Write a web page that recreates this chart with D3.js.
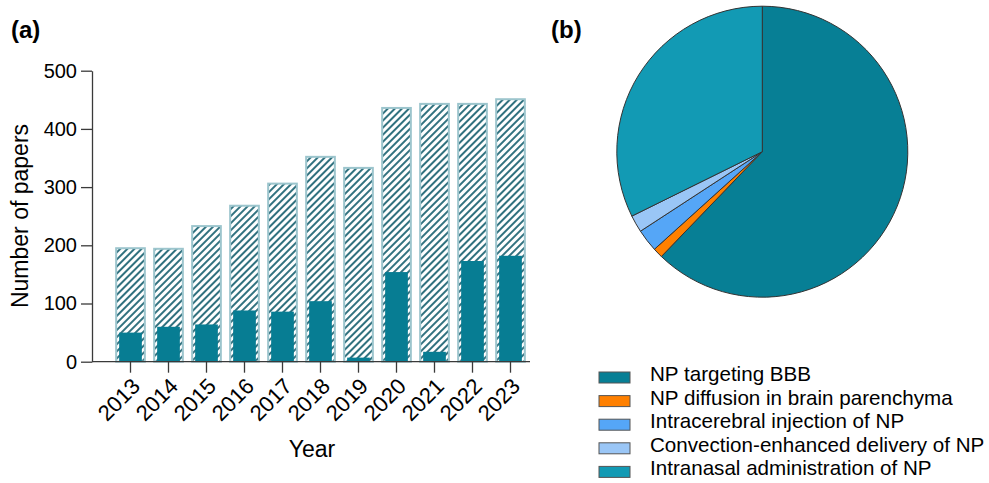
<!DOCTYPE html>
<html>
<head>
<meta charset="utf-8">
<script src="https://cdn.jsdelivr.net/npm/d3@7"></script>
<style>
  html, body { margin: 0; padding: 0; background: #fff; }
  svg { display: block; font-family: "Liberation Sans", Arial, Helvetica, sans-serif; }
</style>
</head>
<body>
<svg id="chart" width="989" height="483"></svg>
<script>
// Panel (a): papers per year
const years = ["2013","2014","2015","2016","2017","2018","2019","2020","2021","2022","2023"];
const totalPapers = [195, 194, 233, 268, 306, 352, 333, 436, 443, 443, 451];
const bbbPapers   = [50, 60, 64, 88, 86, 104, 7, 154, 17, 173, 182];
const yTicks = [0, 100, 200, 300, 400, 500];

// Panel (b): share of delivery strategies (%)
const routes = [
  "NP targeting BBB",
  "NP diffusion in brain parenchyma",
  "Intracerebral injection of NP",
  "Convection-enhanced delivery of NP",
  "Intranasal administration of NP"
];
const routeShare = [62.2, 1.1, 2.5, 1.9, 32.3];
const routeColors = ["#077f95", "#ff8000", "#55a6f7", "#9ac6f6", "#129ab4"];

const svg = d3.select("#chart");
const axisColor = "#3a3a3a";

// hatch pattern for the total bars
const defs = svg.append("defs");
const pat = defs.append("pattern")
  .attr("id", "hatch")
  .attr("patternUnits", "userSpaceOnUse")
  .attr("width", 5).attr("height", 5)
  .attr("patternTransform", "rotate(45)");
pat.append("rect").attr("width", 5).attr("height", 5).attr("fill", "#fff");
pat.append("line")
  .attr("x1", 1).attr("y1", 0).attr("x2", 1).attr("y2", 5)
  .attr("stroke", "#0c5868").attr("stroke-width", 1.7);

// ---- bar chart ----
const axisX0 = 92, axisX1 = 530;
const y = d3.scaleLinear().domain([0, 500]).range([361.7, 70.7]);
const x = d3.scaleBand().domain(years).range([111.5, 529.5])
  .paddingInner(0.245).paddingOuter(0.1225);

const bars = svg.append("g");
bars.selectAll("rect.total")
  .data(years)
  .join("rect")
  .attr("class", "total")
  .attr("x", d => x(d))
  .attr("y", (d, i) => y(totalPapers[i]))
  .attr("width", x.bandwidth())
  .attr("height", (d, i) => y(0) - y(totalPapers[i]))
  .attr("fill", "url(#hatch)")
  .attr("stroke", "#9cc5cd")
  .attr("stroke-width", 2);

const inset = 3;
bars.selectAll("rect.bbb")
  .data(years)
  .join("rect")
  .attr("class", "bbb")
  .attr("x", d => x(d) + inset)
  .attr("y", (d, i) => y(bbbPapers[i]))
  .attr("width", x.bandwidth() - 2 * inset)
  .attr("height", (d, i) => y(0) - y(bbbPapers[i]))
  .attr("fill", "#077d93");

// y axis
const yAxis = svg.append("g")
  .attr("transform", `translate(${axisX0},0)`)
  .call(d3.axisLeft(y).tickValues(yTicks).tickSize(11).tickPadding(4).tickSizeOuter(0));
yAxis.select(".domain").attr("stroke", axisColor).attr("stroke-width", 1.3);
yAxis.selectAll(".tick line").attr("stroke", axisColor).attr("stroke-width", 1.3);
yAxis.selectAll(".tick text").attr("font-size", 20).attr("fill", "#000")
  .attr("font-family", "Liberation Sans, Arial, sans-serif");

// x axis
const xAxis = svg.append("g")
  .attr("transform", `translate(0,${y(0)})`)
  .call(d3.axisBottom(x).tickSize(11).tickSizeOuter(0));
xAxis.select(".domain").remove();
xAxis.append("line")
  .attr("x1", axisX0).attr("x2", axisX1)
  .attr("stroke", axisColor).attr("stroke-width", 1.3);
xAxis.selectAll(".tick line").attr("stroke", axisColor).attr("stroke-width", 1.3);
xAxis.selectAll(".tick text")
  .attr("font-size", 22).attr("fill", "#000")
  .attr("font-family", "Liberation Sans, Arial, sans-serif")
  .attr("text-anchor", "end")
  .attr("dy", null).attr("y", null)
  .attr("transform", "translate(11,26) rotate(-45)");

// axis titles
svg.append("text")
  .attr("x", 312).attr("y", 457)
  .attr("text-anchor", "middle").attr("font-size", 23)
  .text("Year");
svg.append("text")
  .attr("transform", "translate(28,216) rotate(-90)")
  .attr("text-anchor", "middle").attr("font-size", 23)
  .text("Number of papers");

// panel labels
svg.append("text").attr("x", 11).attr("y", 38)
  .attr("font-size", 24).attr("font-weight", "bold").text("(a)");
svg.append("text").attr("x", 551).attr("y", 38)
  .attr("font-size", 24).attr("font-weight", "bold").text("(b)");

// ---- pie chart ----
const pie = d3.pie().sort(null).value(d => d)(routeShare);
const arc = d3.arc().innerRadius(0).outerRadius(145.5);
svg.append("g")
  .attr("transform", "translate(762.3,151.7)")
  .selectAll("path")
  .data(pie)
  .join("path")
  .attr("d", arc)
  .attr("fill", (d, i) => routeColors[i])
  .attr("stroke", "#333")
  .attr("stroke-width", 1);

// legend
const legend = svg.append("g").attr("transform", "translate(599,372)");
const row = legend.selectAll("g")
  .data(routes)
  .join("g")
  .attr("transform", (d, i) => `translate(0,${i * 23.6})`);
row.append("rect")
  .attr("width", 31).attr("height", 11)
  .attr("fill", (d, i) => routeColors[i])
  .attr("stroke", "#555").attr("stroke-width", 1);
row.append("text")
  .attr("x", 51).attr("y", 9)
  .attr("font-size", 20.6)
  .text(d => d);
</script>
</body>
</html>
